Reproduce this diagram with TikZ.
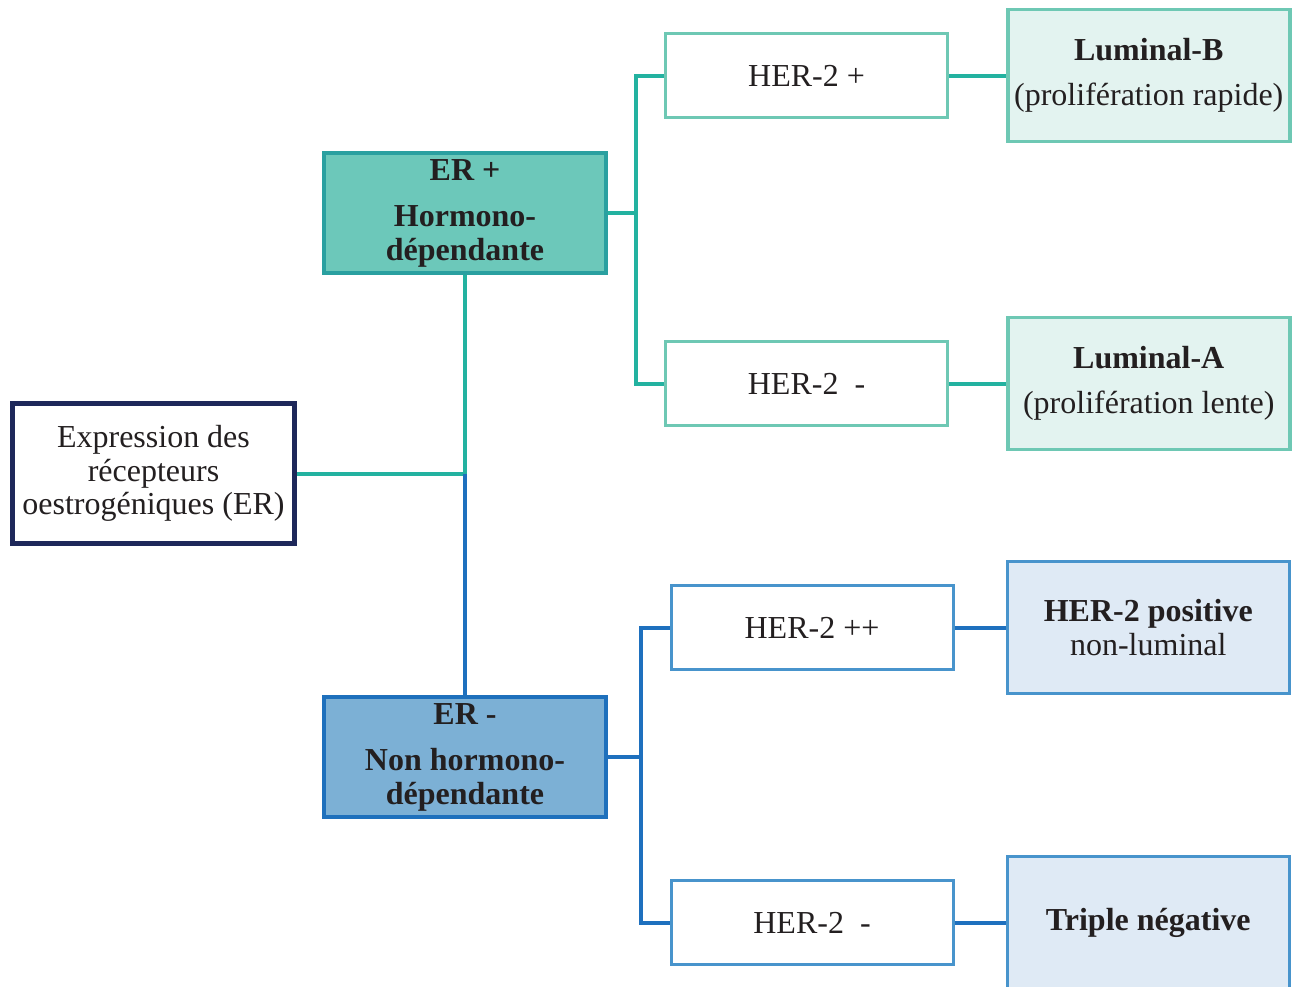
\documentclass[tikz,border=0pt]{standalone}
\usepackage{fontspec}
\setmainfont{Liberation Serif}
\usepackage{xcolor}
\usepackage{tikz}
\usetikzlibrary{positioning}
\definecolor{textdark}{RGB}{35,31,32}
\definecolor{navyline}{RGB}{30,40,90}
\definecolor{tealdark}{RGB}{42,160,160}
\definecolor{tealfill}{RGB}{108,200,186}
\definecolor{teallight}{RGB}{110,200,180}
\definecolor{tealpale}{RGB}{227,243,240}
\definecolor{tealline}{RGB}{35,178,160}
\definecolor{bluedark}{RGB}{30,112,188}
\definecolor{bluefill}{RGB}{124,176,213}
\definecolor{bluelight}{RGB}{72,148,204}
\definecolor{bluepale}{RGB}{223,234,245}
\definecolor{blueline}{RGB}{30,112,190}

\begin{document}
\begin{tikzpicture}[
    x=1pt, y=-1pt,
    every node/.style={font=\fontsize{32}{33.5}\selectfont, align=center, text=textdark},
    rootbox/.style={rectangle, draw=navyline, fill=white, line width=5pt, minimum width=282pt, minimum height=140pt},
    erposbox/.style={rectangle, draw=tealdark, fill=tealfill, line width=4pt, minimum width=282pt, minimum height=120pt, font=\fontsize{32}{33.5}\selectfont\bfseries},
    ernegbox/.style={rectangle, draw=bluedark, fill=bluefill, line width=4pt, minimum width=282pt, minimum height=120pt, font=\fontsize{32}{33.5}\selectfont\bfseries},
    herposbox/.style={rectangle, draw=teallight, fill=white, line width=3pt, minimum width=282pt, minimum height=84pt},
    hernegbox/.style={rectangle, draw=bluelight, fill=white, line width=3pt, minimum width=282pt, minimum height=84pt},
    lumbox/.style={rectangle, draw=teallight, fill=tealpale, line width=3.5pt, minimum width=282pt, minimum height=132pt},
    nonlumbox/.style={rectangle, draw=bluelight, fill=bluepale, line width=3.5pt, minimum width=282pt, minimum height=132pt},
    tline/.style={draw=tealline, line width=4pt},
    bline/.style={draw=blueline, line width=4pt}
]
\useasboundingbox (0,0) rectangle (1298,986);

\node[rootbox] (expr) at (153.5,473.5) {Expression des\\récepteurs\\oestrogéniques (ER)};
\node[erposbox] (erpos) at (465,213) {ER +\\[13pt]Hormono-\\dépendante};
\node[ernegbox] (erneg) at (465,757) {ER -\\[13pt]Non hormono-\\dépendante};

\node[herposbox] (herbp) at (806.5,75.5) {HER-2 +};
\node[herposbox] (herbm) at (806.5,383.5) {HER-2~~-};
\node[hernegbox] (herapp) at (812,627.5) {HER-2 ++};
\node[hernegbox] (heram) at (812,922.5) {HER-2~~-};

\node[lumbox, right=57pt of herbp] (lumb) {\textbf{Luminal-B}\\[12pt](prolifération rapide)};
\node[lumbox, right=57pt of herbm] (luma) {\textbf{Luminal-A}\\[12pt](prolifération lente)};
\node[nonlumbox, right=51pt of herapp] (herpos) {\textbf{HER-2 positive}\\non-luminal};
\node[nonlumbox, right=51pt of heram] (triple) {\textbf{Triple négative}};

\coordinate (jroot) at (erpos.south |- expr.east);
\coordinate[right=28pt of erpos.east] (forkp);
\coordinate[right=33pt of erneg.east] (forkn);

\draw[tline] (expr.east) -- (jroot);
\draw[tline] (erpos.south) -- (jroot);
\draw[bline] (jroot) -- (erneg.north);

\draw[tline] (erpos.east) -- (forkp);
\draw[tline] (herbp.west) -| (forkp) |- (herbm.west);
\draw[bline] (erneg.east) -- (forkn);
\draw[bline] (herapp.west) -| (forkn) |- (heram.west);

\draw[tline] (herbp) -- (lumb);
\draw[tline] (herbm) -- (luma);
\draw[bline] (herapp) -- (herpos);
\draw[bline] (heram) -- (triple);

\end{tikzpicture}
\end{document}
